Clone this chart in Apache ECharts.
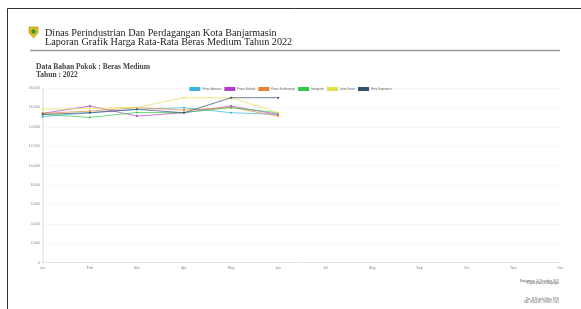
<!DOCTYPE html>
<html>
<head>
<meta charset="utf-8">
<script src="https://cdn.jsdelivr.net/npm/echarts@6/dist/echarts.min.js"></script>
<style>
html,body{margin:0;padding:0;background:#fff;}
#c{width:581px;height:309px;}
</style>
</head>
<body>
<div id="c"></div>
<script>
const months = ["Jan","Feb","Mar","Apr","May","Jun","Jul","Aug","Sep","Oct","Nov","Dec"];
const seriesNames = ["Pasar Antasari","Pasar Kalindo","Pasar Sudimampir","Indogrosir","Lotte Grosir","Hero Supermart"];
const seriesColors = ["#36b7d9","#b140c9","#ea8433","#34c74a","#e5de4f","#34506e"];
const antasari   = [15050, 15450, 15800, 15970, 15450, 15280];
const kalindo    = [15390, 16140, 15110, 15450, 16140, 15280];
const sudimampir = [15390, 15620, 15970, 15730, 16000, 15110];
const indogrosir = [15280, 14970, 15470, 15470, 15970, 15450];
const lotte      = [15800, 15900, 16000, 17000, 17000, 15450];
const hero       = [15280, 15450, 15800, 15450, 17000, 17000];
const allValues = [antasari, kalindo, sudimampir, indogrosir, lotte, hero];
const titleLine1 = "Dinas Perindustrian Dan Perdagangan Kota Banjarmasin";
const titleLine2 = "Laporan Grafik Harga Rata-Rata Beras Medium Tahun 2022";
const subLine1 = "Data Bahan Pokok : Beras Medium";
const subLine2 = "Tahun : 2022";
const footer = ["Banjarmasin, 31 Desember 2022","Kepala Dinas Perdagangan","Drs. H. Kepala Dinas, M.Si","NIP. 19650101 199003 1 001"];

const chart = echarts.init(document.getElementById('c'), null, {renderer:'canvas'});
const serif = "'Liberation Serif','DejaVu Serif',serif";
chart.setOption({
  animation:false,
  backgroundColor:'#fff',
  color: seriesColors,
  legend:{
    top:82, left:'center',
    itemWidth:11, itemHeight:4, itemGap:3,
    icon:'rect',
    textStyle:{fontSize:2.9, color:'#666', padding:[0,0,0,-3]},
    data: seriesNames
  },
  grid:{left:42.7, right:20.3, top:88, bottom:46.3},
  xAxis:{
    type:'category', boundaryGap:false, data:months,
    axisLine:{lineStyle:{color:'#e3e3e3'}},
    axisTick:{show:false},
    axisLabel:{fontSize:3.6, color:'#888', margin:3}
  },
  yAxis:{
    type:'value', min:0, max:18000, interval:2000,
    axisLine:{show:true, lineStyle:{color:'#e8e8e8', width:1.5}},
    axisTick:{show:false},
    splitLine:{lineStyle:{color:'#f0f0f0', width:0.6}},
    axisLabel:{fontSize:3.6, color:'#888', margin:3}
  },
  series: seriesNames.map((n,i)=>({
    name:n, type:'line', data:allValues[i],
    symbol:'circle', symbolSize:2,
    lineStyle:{width:1, opacity:0.7},
    itemStyle:{color:seriesColors[i]}
  })),
  graphic:[
    {type:'line', shape:{x1:7.5,y1:8.5,x2:581,y2:8.5}, style:{stroke:'#333', lineWidth:1}},
    {type:'line', shape:{x1:7.5,y1:8.5,x2:7.5,y2:309}, style:{stroke:'#333', lineWidth:1}},
    {type:'polygon', shape:{points:[[29,27],[38,27],[38,33],[33.5,38],[29,33]]}, style:{fill:'#e3c21a', stroke:'#8a7a10', lineWidth:0.5}},
    {type:'circle', shape:{cx:33.5, cy:31.5, r:2.2}, style:{fill:'#3f8f3a'}},
    {type:'text', left:45, top:28.5, style:{text:titleLine1, font:"10.2px "+serif, fill:'#222'}},
    {type:'text', left:45, top:37.5, style:{text:titleLine2, font:"10.2px "+serif, fill:'#222'}},
    {type:'line', shape:{x1:30,y1:50.5,x2:560,y2:50.5}, style:{stroke:'#999', lineWidth:1.5}},
    {type:'text', left:36, top:63, style:{text:subLine1, font:"bold 7.5px "+serif, fill:'#444'}},
    {type:'text', left:36, top:71, style:{text:subLine2, font:"bold 7.5px "+serif, fill:'#444'}},
    {type:'text', right:22, top:279.5, style:{text:footer[0], font:"3px "+serif, fill:'#555', align:'right'}},
    {type:'text', right:22, top:282, style:{text:footer[1], font:"3px "+serif, fill:'#555', align:'right'}},
    {type:'text', right:22, top:298, style:{text:footer[2], font:"3px "+serif, fill:'#555', align:'right'}},
    {type:'text', right:22, top:300.5, style:{text:footer[3], font:"3px "+serif, fill:'#555', align:'right'}}
  ]
});
</script>
</body>
</html>
